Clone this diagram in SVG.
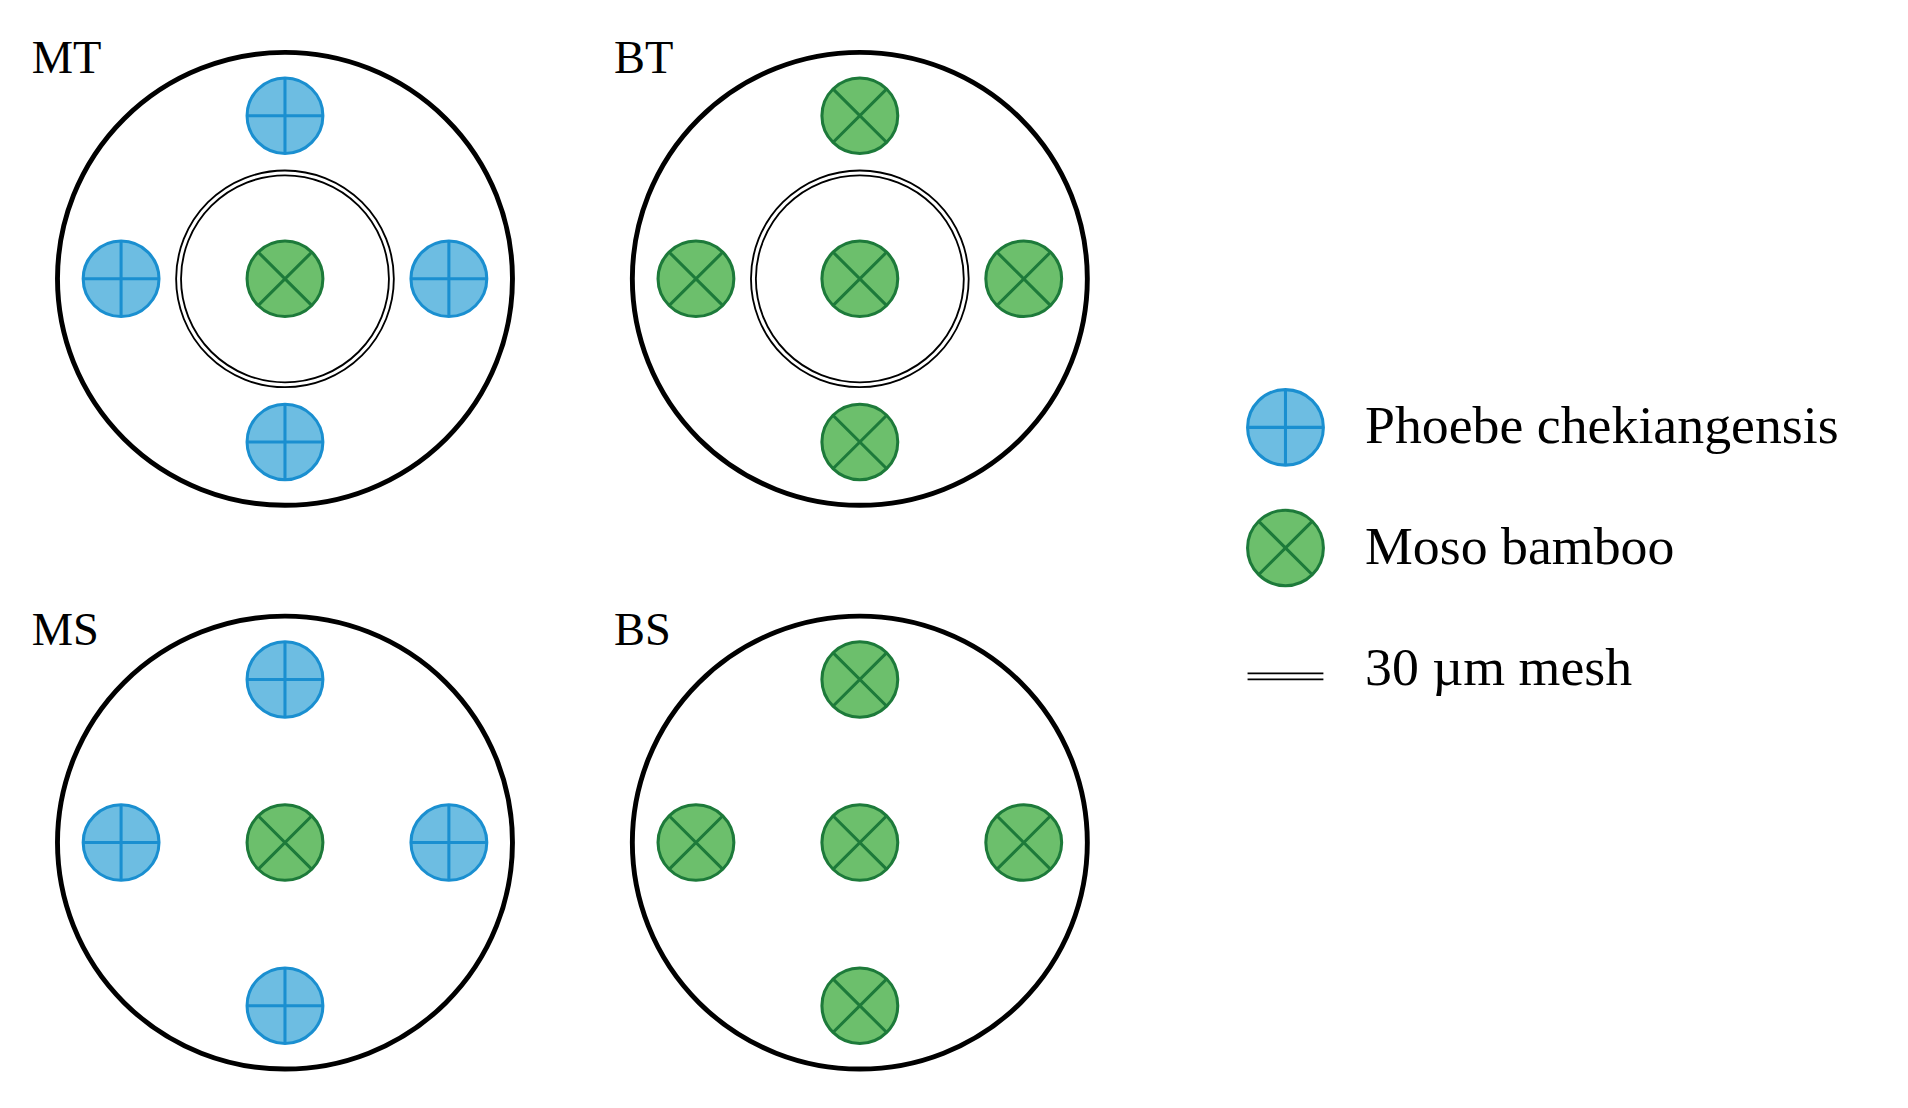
<svg xmlns="http://www.w3.org/2000/svg" xmlns:xlink="http://www.w3.org/1999/xlink" width="1908" height="1108" viewBox="0 0 1908 1108">
<style>
.big{fill:none;stroke:#000;stroke-width:4}
.mesh{fill:none;stroke:#000;stroke-width:1.5}
.lbl{font-family:"Liberation Serif",serif;font-size:38px;fill:#000}
.leg{font-family:"Liberation Serif",serif;font-size:44px;fill:#000}
</style>
<defs>
<g id="pc"><circle r="31" fill="#6dbde2" stroke="#1a8fd0" stroke-width="2.5"/><path d="M-31 0H31M0 -31V31" stroke="#1a8fd0" stroke-width="2.5"/></g>
<g id="mb"><circle r="31" fill="#6cbf6c" stroke="#1d7a3a" stroke-width="2.5"/><path d="M-22 -22L22 22M22 -22L-22 22" stroke="#1d7a3a" stroke-width="2.5"/></g>
<g id="ms"><circle r="85" class="mesh"/><circle r="89" class="mesh"/></g>
</defs>
<rect width="1908" height="1108" fill="#fff"/>
<g transform="scale(1.2231,1.2176)">
<g id="MT">
<text class="lbl" x="26" y="60">MT</text>
<circle class="big" cx="233" cy="229" r="186"/>
<use xlink:href="#ms" x="233" y="229"/>
<use xlink:href="#pc" x="233" y="95"/><use xlink:href="#pc" x="99" y="229"/><use xlink:href="#pc" x="367" y="229"/><use xlink:href="#pc" x="233" y="363"/>
<use xlink:href="#mb" x="233" y="229"/>
</g>
<g id="BT">
<text class="lbl" x="502" y="60">BT</text>
<circle class="big" cx="703" cy="229" r="186"/>
<use xlink:href="#ms" x="703" y="229"/>
<use xlink:href="#mb" x="703" y="95"/><use xlink:href="#mb" x="569" y="229"/><use xlink:href="#mb" x="837" y="229"/><use xlink:href="#mb" x="703" y="363"/>
<use xlink:href="#mb" x="703" y="229"/>
</g>
<g id="MS">
<text class="lbl" x="26" y="530">MS</text>
<circle class="big" cx="233" cy="692" r="186"/>
<use xlink:href="#pc" x="233" y="558"/><use xlink:href="#pc" x="99" y="692"/><use xlink:href="#pc" x="367" y="692"/><use xlink:href="#pc" x="233" y="826"/>
<use xlink:href="#mb" x="233" y="692"/>
</g>
<g id="BS">
<text class="lbl" x="502" y="530">BS</text>
<circle class="big" cx="703" cy="692" r="186"/>
<use xlink:href="#mb" x="703" y="558"/><use xlink:href="#mb" x="569" y="692"/><use xlink:href="#mb" x="837" y="692"/><use xlink:href="#mb" x="703" y="826"/>
<use xlink:href="#mb" x="703" y="692"/>
</g>
<g id="legend">
<use xlink:href="#pc" x="1051" y="351"/>
<text class="leg" x="1116" y="364">Phoebe chekiangensis</text>
<use xlink:href="#mb" x="1051" y="450"/>
<text class="leg" x="1116" y="463">Moso bamboo</text>
<path d="M1020 553H1082M1020 558H1082" stroke="#000" stroke-width="1.5"/>
<text class="leg" x="1116" y="563">30 µm mesh</text>
</g>
</g>
<g id="connectors"/>
</svg>
